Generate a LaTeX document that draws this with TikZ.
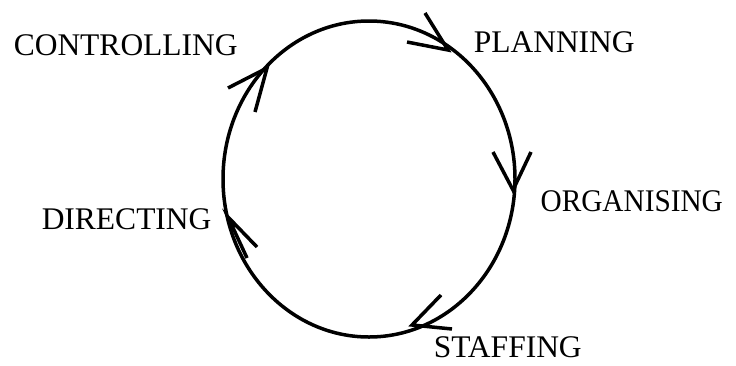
\documentclass[tikz,border=0pt]{standalone}
\usepackage{fontspec}
\setmainfont{Liberation Serif}
\begin{document}
\begin{tikzpicture}[x=1pt,y=-1pt,line width=3.5pt,
  lbl/.style={anchor=base west,inner sep=0pt,font=\fontsize{31.5}{36}\selectfont},
  arrowv/.style={line width=3.5pt,line cap=butt,line join=miter}]
\useasboundingbox (0,0) rectangle (736,365);
\draw (369,179) ellipse [x radius=146, y radius=158];
% arrowheads
\coordinate (t1) at (448,50);
\coordinate (t2) at (513,190);
\coordinate (t3) at (412,325);
\coordinate (t4) at (228,217);
\coordinate (t5) at (267,68);
\draw[arrowv] (425,13) -- (t1) -- (407,42);
\draw[arrowv] (493,152) -- (t2) -- (531,152);
\draw[arrowv] (441,295) -- (t3) -- (452,329);
\draw[arrowv] (257,247) -- (t4) -- (247,258);
\draw[arrowv] (228,88) -- (t5) -- (255,112);
% labels
\node[lbl] (controlling) at (12,55) {CONTROLLING};
\node[lbl] (planning) at (472,52) {PLANNING};
\node[lbl,xscale=0.93] (organising) at (539,211) {ORGANISING};
\node[lbl] (staffing) at (432,357) {STAFFING};
\node[lbl] (directing) at (40,229) {DIRECTING};
\end{tikzpicture}
\end{document}
